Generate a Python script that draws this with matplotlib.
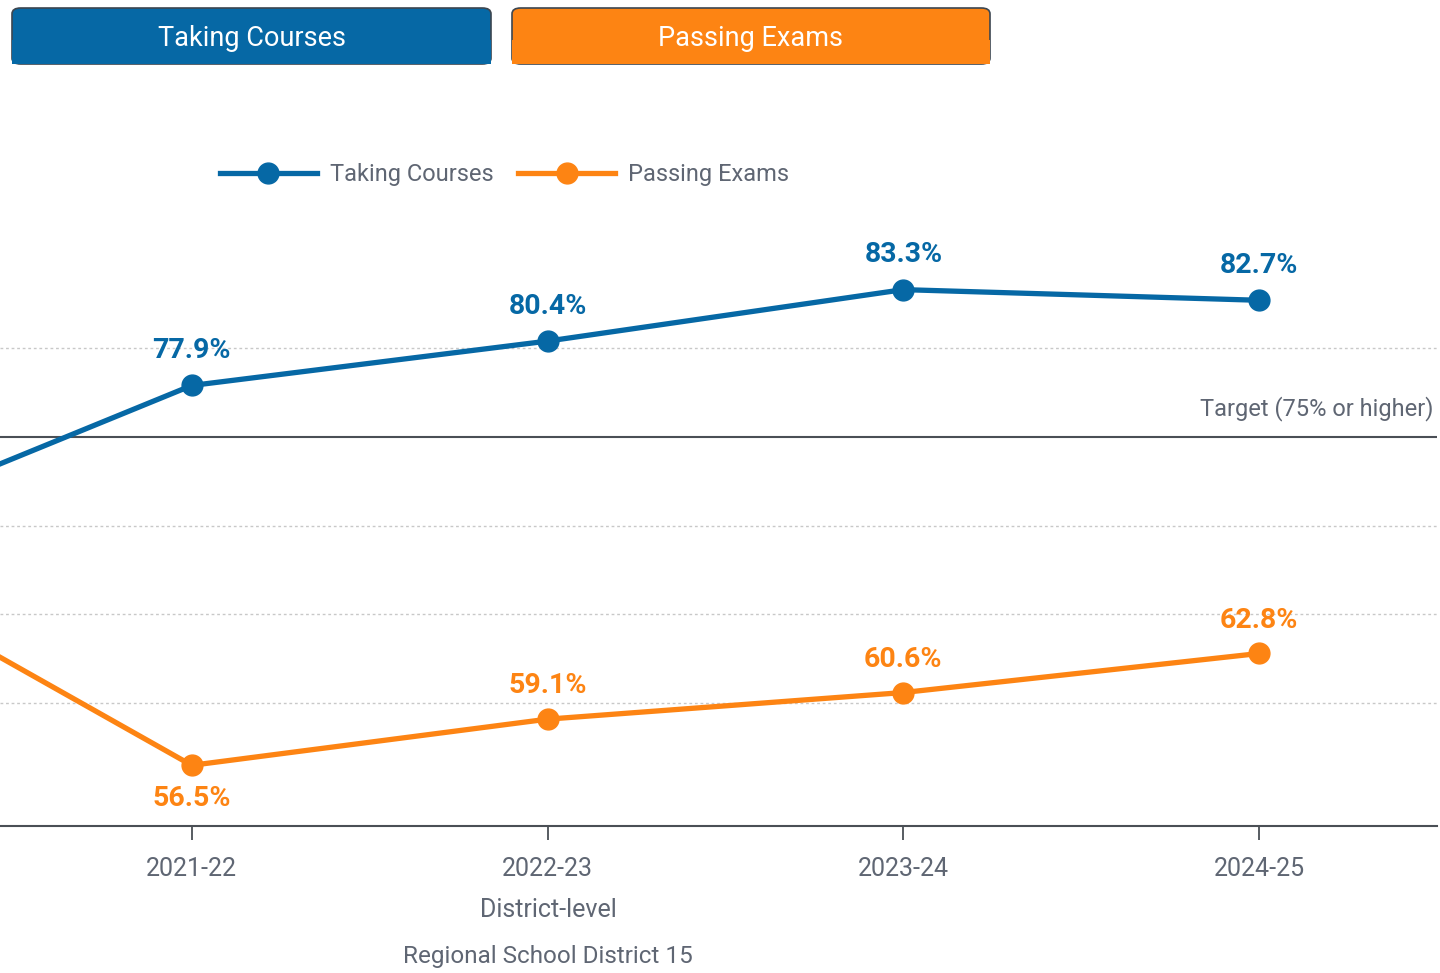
import matplotlib.pyplot as plt
from matplotlib.patches import FancyBboxPatch, Rectangle

plt.rcParams['font.family'] = ['Roboto', 'DejaVu Sans']

# data (first year is scrolled off the left edge in the reference)
years = ['2020-21', '2021-22', '2022-23', '2023-24', '2024-25']
taking = [69.7, 77.9, 80.4, 83.3, 82.7]
passing = [67.8, 56.5, 59.1, 60.6, 62.8]
target = 75
grid_vals = [60, 65, 70, 80]

blue = '#0668a5'
orange = '#fd8413'
gray_txt = '#5f6673'

W, H = 1440, 973
fig = plt.figure(figsize=(W / 100, H / 100), dpi=100)

def fx(px):
    return px / W

def fy(py):
    return 1 - py / H

ax = fig.add_axes([0, fy(826), fx(1437), fy(230) - fy(826)])
x = list(range(len(years)))

for g in grid_vals:
    ax.axhline(g, color='#c8c8c8', lw=1, ls=(0, (2, 2)), zorder=1)
ax.axhline(target, color='#4a4f55', lw=1.5, zorder=2)
ax.text(4.49, target + 0.9, 'Target (75% or higher)', ha='right', va='bottom',
        fontsize=17, color=gray_txt)

ax.plot(x, taking, color=blue, lw=3.8, marker='o', ms=15, zorder=4, label='Taking Courses')
ax.plot(x, passing, color=orange, lw=3.8, marker='o', ms=15, zorder=4, label='Passing Exams')

for i in x[1:]:
    ax.annotate(f'{taking[i]:.1f}%', (i, taking[i]), xytext=(0, 25), textcoords='offset points',
                ha='center', va='center', fontsize=20.5, fontweight='bold', color=blue)
    off = -24 if i == 1 else 24
    ax.annotate(f'{passing[i]:.1f}%', (i, passing[i]), xytext=(0, off), textcoords='offset points',
                ha='center', va='center', fontsize=20.5, fontweight='bold', color=orange)

for s in ['top', 'right', 'left']:
    ax.spines[s].set_visible(False)
ax.spines['bottom'].set_color('#4a4f55')
ax.spines['bottom'].set_linewidth(1.5)
ax.set_yticks([])
ax.set_xticks(x)
ax.set_xticklabels(years, fontsize=18, color=gray_txt)
ax.tick_params(axis='x', length=10, width=1.3, color='#4a4f55', pad=12)
ax.set_xlim(0.461, 4.5)
ax.set_ylim(53.08, 86.66)

fig.text(fx(548), fy(910), 'District-level', ha='center', va='center', fontsize=18, color=gray_txt)
fig.text(fx(548), fy(957), 'Regional School District 15', ha='center', va='center',
         fontsize=17.5, color=gray_txt)

# legend
fig.legend(loc='center left', bbox_to_anchor=(fx(220), fy(175)), ncol=2, frameon=False,
           fontsize=17, handlelength=4.1, handletextpad=0.55, columnspacing=1.05,
           borderpad=0, borderaxespad=0, labelcolor=gray_txt)

# tabs
for x0, x1, col, lab in [(12, 491, blue, 'Taking Courses'), (512, 990, orange, 'Passing Exams')]:
    box = FancyBboxPatch((fx(x0), fy(64)), fx(x1 - x0), fy(8) - fy(64),
                         boxstyle='round,pad=0,rounding_size=0.006', transform=fig.transFigure,
                         facecolor=col, edgecolor='#3c4650', lw=1.2)
    fig.patches.append(box)
    fig.patches.append(Rectangle((fx(x0), fy(64)), fx(x1 - x0), fy(40) - fy(64),
                                 transform=fig.transFigure, facecolor=col, edgecolor='none'))
    fig.text(fx((x0 + x1) / 2), fy(38), lab, ha='center', va='center', fontsize=19.5,
             color='white')

fig.savefig('out.png', dpi=100)
